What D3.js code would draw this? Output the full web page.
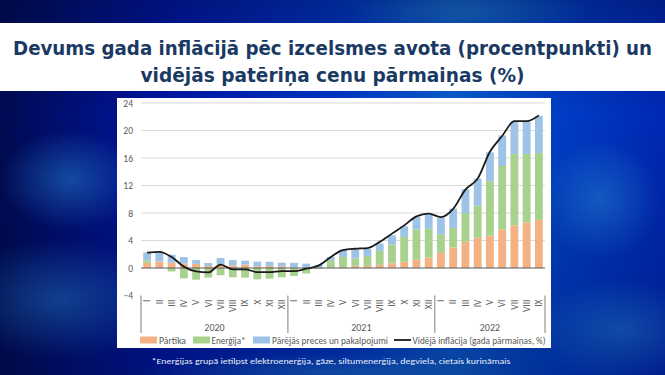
<!DOCTYPE html>
<html>
<head>
<meta charset="utf-8">
<script src="https://cdn.jsdelivr.net/npm/d3@7"></script>
<style>
  html, body { margin: 0; padding: 0; background: #001070; }
  svg { display: block; }
</style>
</head>
<body>
<div id="plot"></div>
<script>
// chart values
const months = ["I","II","III","IV","V","VI","VII","VIII","IX","X","XI","XII",
                "I","II","III","IV","V","VI","VII","VIII","IX","X","XI","XII",
                "I","II","III","IV","V","VI","VII","VIII","IX"];
const years = ["2020", "2021", "2022"];
const yTicks = [-4, 0, 4, 8, 12, 16, 20, 24];

const food = [0.77, 0.96, 0.77, 0.67, 0.6, 0.3, 0.5, 0.4, 0.5, 0.25, 0.3, 0.25,
              0.05, 0.03, 0.02, 0.05, 0.15, 0.34, 0.3, 0.45, 0.7, 0.9, 1.2, 1.5,
              2.2, 3.0, 3.8, 4.4, 4.7, 5.6, 6.2, 6.6, 7.0];
const energy = [0.33, 0.0, -0.5, -1.5, -1.7, -1.4, -1.05, -1.35, -1.4, -1.65, -1.55, -1.35,
                -1.15, -0.8, -0.1, 1.1, 1.45, 1.05, 1.43, 2.05, 2.7, 3.6, 4.4, 4.2,
                2.7, 2.83, 4.2, 4.66, 7.93, 9.24, 10.38, 9.98, 9.72];
const other = [1.15, 1.3, 1.15, 0.92, 0.55, 0.43, 0.95, 0.75, 0.55, 0.67, 0.6, 0.53,
               0.7, 0.6, 0.45, 0.45, 1.06, 1.3, 1.07, 1.07, 1.37, 1.57, 1.8, 2.05,
               2.4, 2.8, 3.47, 3.95, 4.2, 4.44, 4.67, 4.67, 5.4];
const inflation = [2.25, 2.35, 1.6, 0.2, -0.5, -0.65, 0.5, -0.2, -0.2, -0.6, -0.6, -0.45,
                   -0.45, -0.1, 0.35, 1.6, 2.6, 2.8, 2.9, 3.8, 5.0, 6.2, 7.5, 7.9,
                   7.4, 8.6, 11.4, 13.0, 16.9, 19.2, 21.35, 21.35, 22.2];

const seriesNames = ["Pārtika", "Enerģija*", "Pārējās preces un pakalpojumi"];
const lineName = "Vidējā inflācija (gada pārmaiņas, %)";
const colors = ["#F4B183", "#A9D18E", "#9DC3E6"];

window.addEventListener("load", main);

function main(){
  const width = 665, height = 375;
  const font = "Calibri, 'Open Sans', sans-serif";

  const svg = d3.select("#plot").append("svg")
    .attr("width", width)
    .attr("height", height);

  // slide background
  const defs = svg.append("defs");
  const bg = defs.append("linearGradient").attr("id", "bg")
    .attr("x1", 0).attr("y1", 0).attr("x2", 1).attr("y2", 0);
  [[0, "#000a52"], [0.25, "#0016a4"], [0.5, "#0036c6"], [0.68, "#0a5ccf"],
   [0.85, "#003cc4"], [1, "#0028b4"]]
    .forEach(s => bg.append("stop").attr("offset", s[0]).attr("stop-color", s[1]));
  const glow = defs.append("radialGradient").attr("id", "glow");
  glow.append("stop").attr("offset", 0).attr("stop-color", "#2a8fe0").attr("stop-opacity", 0.5);
  glow.append("stop").attr("offset", 1).attr("stop-color", "#2a8fe0").attr("stop-opacity", 0);
  const dark = defs.append("linearGradient").attr("id", "dark")
    .attr("x1", 0).attr("y1", 0).attr("x2", 0).attr("y2", 1);
  dark.append("stop").attr("offset", 0).attr("stop-color", "#000830").attr("stop-opacity", 0.35);
  dark.append("stop").attr("offset", 0.3).attr("stop-color", "#000830").attr("stop-opacity", 0);
  dark.append("stop").attr("offset", 1).attr("stop-color", "#000830").attr("stop-opacity", 0.3);

  svg.append("rect").attr("width", width).attr("height", height).attr("fill", "url(#bg)");
  svg.append("ellipse").attr("cx", 60).attr("cy", 300).attr("rx", 110).attr("ry", 60).attr("fill", "url(#glow)");
  svg.append("ellipse").attr("cx", 70).attr("cy", 180).attr("rx", 70).attr("ry", 50).attr("fill", "url(#glow)");
  svg.append("ellipse").attr("cx", 620).attr("cy", 330).attr("rx", 90).attr("ry", 50).attr("fill", "url(#glow)");
  svg.append("ellipse").attr("cx", 600).attr("cy", 200).attr("rx", 60).attr("ry", 60).attr("fill", "url(#glow)");
  svg.append("ellipse").attr("cx", 470).attr("cy", 10).attr("rx", 120).attr("ry", 25).attr("fill", "url(#glow)");
  svg.append("ellipse").attr("cx", 330).attr("cy", 372).attr("rx", 200).attr("ry", 18).attr("fill", "url(#glow)");
  svg.append("rect").attr("width", width).attr("height", height).attr("fill", "url(#dark)");

  // title band
  svg.append("rect").attr("x", 0).attr("y", 23).attr("width", width).attr("height", 68).attr("fill", "#ffffff");
  const titleLines = ["Devums gada inflācijā pēc izcelsmes avota (procentpunkti) un",
                      "vidējās patēriņa cenu pārmaiņas (%)"];
  const titleLens = [639, 384];
  svg.append("g").selectAll("text")
    .data(titleLines)
    .join("text")
    .attr("x", width / 2)
    .attr("y", (d, i) => 55 + i * 27)
    .attr("text-anchor", "middle")
    .attr("textLength", (d, i) => titleLens[i])
    .attr("lengthAdjust", "spacingAndGlyphs")
    .attr("font-family", "'DejaVu Sans Condensed', 'DejaVu Sans', sans-serif")
    .attr("font-weight", "bold")
    .attr("font-size", 20)
    .attr("fill", "#1a3a64")
    .text(d => d);

  // chart box
  svg.append("rect").attr("x", 117).attr("y", 98).attr("width", 434).attr("height", 250).attr("fill", "#ffffff");

  const x = d3.scaleBand()
    .domain(d3.range(months.length))
    .range([141, 545])
    .paddingInner(0.36)
    .paddingOuter(0.18);

  const y = d3.scaleLinear().domain([-4, 24]).range([295.5, 103]);

  // gridlines
  svg.append("g").selectAll("line")
    .data(yTicks.filter(t => t > 0))
    .join("line")
    .attr("x1", 141).attr("x2", 545)
    .attr("y1", d => y(d)).attr("y2", d => y(d))
    .attr("stroke", "#d9d9d9").attr("stroke-width", 1);

  // y axis labels
  const yAxis = svg.append("g")
    .attr("transform", "translate(141,0)")
    .call(d3.axisLeft(y).tickValues(yTicks).tickSize(0).tickPadding(8));
  yAxis.select(".domain").remove();
  yAxis.selectAll("text")
    .attr("font-family", font)
    .attr("font-size", 9.5)
    .attr("fill", "#595959");

  // stacked bars
  const rows = months.map((m, i) => ({ i: i, food: food[i], energy: energy[i], other: other[i] }));
  const stacked = d3.stack()
    .keys(["food", "energy", "other"])
    .offset(d3.stackOffsetDiverging)(rows);

  svg.append("g").selectAll("g")
    .data(stacked)
    .join("g")
    .attr("fill", (d, k) => colors[k])
    .selectAll("rect")
    .data(d => d)
    .join("rect")
    .attr("x", d => x(d.data.i))
    .attr("width", x.bandwidth())
    .attr("y", d => y(Math.max(d[0], d[1])))
    .attr("height", d => Math.abs(y(d[0]) - y(d[1])));

  // zero line
  svg.append("line")
    .attr("x1", 141).attr("x2", 545)
    .attr("y1", y(0)).attr("y2", y(0))
    .attr("stroke", "#595959").attr("stroke-width", 1);

  // average inflation line
  const line = d3.line()
    .x((d, i) => x(i) + x.bandwidth() / 2)
    .y(d => y(d))
    .curve(d3.curveMonotoneX);
  svg.append("path")
    .datum(inflation)
    .attr("d", line)
    .attr("fill", "none")
    .attr("stroke", "#1a1a1a")
    .attr("stroke-width", 1.8);

  // month labels, rotated
  svg.append("g").selectAll("text")
    .data(months)
    .join("text")
    .attr("transform", (d, i) => "translate(" + (x(i) + x.bandwidth() / 2 + 3.3) + ",299.5) rotate(-90)")
    .attr("text-anchor", "end")
    .attr("font-family", font)
    .attr("font-size", 9.5)
    .attr("fill", "#595959")
    .text(d => d);

  // year separators and labels
  const step = x.step();
  const bounds = [141, 141 + 12 * step, 141 + 24 * step, 545];
  svg.append("g").selectAll("line")
    .data(bounds)
    .join("line")
    .attr("x1", d => d).attr("x2", d => d)
    .attr("y1", 295.5).attr("y2", 333)
    .attr("stroke", "#7f7f7f").attr("stroke-width", 1);
  svg.append("g").selectAll("text")
    .data(years)
    .join("text")
    .attr("x", (d, i) => (bounds[i] + bounds[i + 1]) / 2)
    .attr("y", 330.5)
    .attr("text-anchor", "middle")
    .attr("font-family", font)
    .attr("font-size", 10)
    .attr("fill", "#595959")
    .text(d => d);

  // legend
  const legendItems = [
    { name: seriesNames[0], color: colors[0], sx: 140, tx: 159, tl: 27 },
    { name: seriesNames[1], color: colors[1], sx: 193, tx: 211.5, tl: 34 },
    { name: seriesNames[2], color: colors[2], sx: 253, tx: 272, tl: 116 },
    { name: lineName, color: null, sx: 394, tx: 412.5, tl: 133 }
  ];
  const lg = svg.append("g").selectAll("g").data(legendItems).join("g");
  lg.filter(d => d.color)
    .append("rect")
    .attr("x", d => d.sx).attr("y", 336.5)
    .attr("width", 17).attr("height", 7)
    .attr("fill", d => d.color);
  lg.filter(d => !d.color)
    .append("line")
    .attr("x1", d => d.sx).attr("x2", d => d.sx + 17)
    .attr("y1", 340).attr("y2", 340)
    .attr("stroke", "#1a1a1a").attr("stroke-width", 1.8);
  lg.append("text")
    .attr("x", d => d.tx).attr("y", 343.5)
    .attr("textLength", d => d.tl)
    .attr("lengthAdjust", "spacingAndGlyphs")
    .attr("font-family", font)
    .attr("font-size", 10)
    .attr("fill", "#595959")
    .text(d => d.name);

  // footnote
  svg.append("text")
    .attr("x", 331).attr("y", 364)
    .attr("text-anchor", "middle")
    .attr("textLength", 359)
    .attr("lengthAdjust", "spacingAndGlyphs")
    .attr("font-family", font)
    .attr("font-size", 8.5)
    .attr("fill", "#e8eef8")
    .text("*Enerģijas grupā ietilpst elektroenerģija, gāze, siltumenerģija, degviela, cietais kurināmais");
}
</script>
</body>
</html>
